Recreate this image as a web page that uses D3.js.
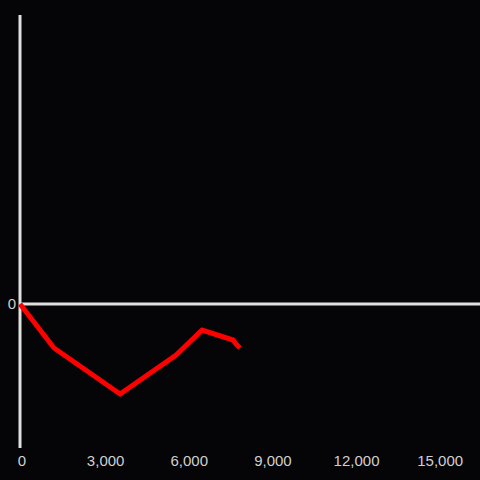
<!DOCTYPE html>
<html>
<head>
<meta charset="utf-8">
<script src="https://cdn.jsdelivr.net/npm/d3@7"></script>
<style>
  html, body { margin: 0; padding: 0; background: #050407; }
  svg { display: block; }
</style>
</head>
<body>
<script>
const width = 480;
const height = 480;

// Series values
const xValues = [0, 1220, 3590, 5600, 6530, 7640, 7750, 7890];
const yValues = [0, -0.44, -0.90, -0.51, -0.26, -0.36, -0.40, -0.44];

// Tick labels
const xTicks = [0, 3000, 6000, 9000, 12000, 15000];
const yTicks = [0];

const x = d3.scaleLinear().domain([0, 16500]).range([20, 480]);
const y = d3.scaleLinear().domain([-1.44, 2.89]).range([448, 15]);

const svg = d3.select("body")
  .append("svg")
  .attr("width", width)
  .attr("height", height);

svg.append("rect")
  .attr("width", width)
  .attr("height", height)
  .attr("fill", "#050407");

// Y axis line
svg.append("line")
  .attr("x1", x(0)).attr("x2", x(0))
  .attr("y1", 15).attr("y2", 448)
  .attr("stroke", "#e0e0e0")
  .attr("stroke-width", 3);

// X axis line at zero
svg.append("line")
  .attr("x1", x(0)).attr("x2", 480)
  .attr("y1", y(0)).attr("y2", y(0))
  .attr("stroke", "#e0e0e0")
  .attr("stroke-width", 3);

// X tick labels along the bottom
const xAxis = svg.append("g")
  .attr("transform", "translate(1.5,448)")
  .call(d3.axisBottom(x).tickValues(xTicks).tickSize(0).tickPadding(7).tickFormat(d3.format(",")));
xAxis.select(".domain").remove();
xAxis.selectAll("text")
  .attr("fill", "#d0d0d0")
  .style("font-family", "Liberation Sans, Arial, sans-serif")
  .style("font-size", "15px");

// Y tick label
const yAxis = svg.append("g")
  .attr("transform", `translate(${x(0)},0)`)
  .call(d3.axisLeft(y).tickValues(yTicks).tickSize(0).tickPadding(4).tickFormat(d3.format("d")));
yAxis.select(".domain").remove();
yAxis.selectAll("text")
  .attr("fill", "#d0d0d0")
  .style("font-family", "Liberation Sans, Arial, sans-serif")
  .style("font-size", "15px");

// Line
const points = xValues.map((d, i) => [d, yValues[i]]);
svg.append("path")
  .datum(points)
  .attr("fill", "none")
  .attr("stroke", "#ff0000")
  .attr("stroke-width", 5)
  .attr("stroke-linejoin", "miter")
  .attr("d", d3.line().x(d => x(d[0])).y(d => y(d[1])));
</script>
</body>
</html>
